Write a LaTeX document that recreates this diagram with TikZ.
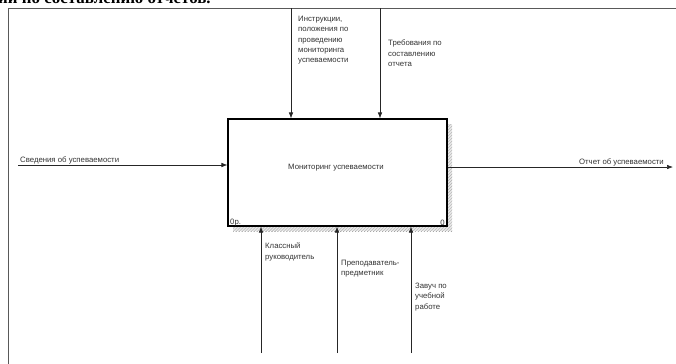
\documentclass[tikz,border=0pt]{standalone}
\usepackage{fontspec}
\setmainfont{Liberation Sans}
\newfontfamily\headfont{Liberation Serif}
\usetikzlibrary{arrows.meta,patterns}
\begin{document}
\begin{tikzpicture}[x=1bp,y=-1bp,
  lbl/.style={font=\fontsize{7.8}{10.4}\selectfont, text=black!80, inner sep=0pt, align=left},
  flow/.style={draw=black!85, line width=0.6bp, -{Latex[length=6bp,width=4.5bp]}},
  framebox/.style={draw=black!65, line width=0.9bp},
  actbox/.style={draw=black, line width=1.1bp, fill=white}]
\useasboundingbox (0,0) rectangle (676,363);
\clip (0,0) rectangle (676,363);
% fragment of the heading line above the diagram sheet
\node[anchor=base west, inner sep=0pt, font=\headfont\bfseries\fontsize{17}{17}\selectfont] (head) at (-2,3) {ии по составлению отчетов.};
% sheet frame
\draw[framebox] (8,366) -- (8,8) -- (680,8);
% shadow of the activity box
\fill[pattern=north east lines, pattern color=black!55] (233,124) rectangle (452,231);
\fill[black!15, opacity=0.6] (233,124) rectangle (452,231);
% activity box
\node[actbox, minimum width=219bp, minimum height=107bp, inner sep=0pt] (A) at (337.5,172.5) {};
\node[lbl] (Aname) at (336,168) {Мониторинг успеваемости};
\node[lbl, anchor=south west] (Anum) at (230,226) {0р.};
\node[lbl, anchor=south east] (Aid) at (445,226) {0};
% endpoints of the boundary arrows
\coordinate (inL) at (18,165);
\coordinate (outR) at (673,167);
\coordinate (c1) at (291,8);
\coordinate (c2) at (380,8);
\coordinate (m1) at (261,353);
\coordinate (m2) at (337,353);
\coordinate (m3) at (411,353);
% input
\draw[flow] (inL) -- (inL -| A.west);
\node[lbl, anchor=base west] (inT) at (20,162) {Сведения об успеваемости};
% output
\draw[flow] (outR -| A.east) -- (outR);
\node[lbl, anchor=base east] (outT) at (664,164) {Отчет об успеваемости};
% controls
\draw[flow] (c1) -- (c1 |- A.north);
\draw[flow] (c2) -- (c2 |- A.north);
\node[lbl, anchor=north west] (c1T) at (298,16) {Инструкции,\\положения по\\проведению\\мониторинга\\успеваемости};
\node[lbl, anchor=north west] (c2T) at (388,40) {Требования по\\составлению\\отчета};
% mechanisms
\draw[flow] (m1) -- (m1 |- A.south);
\draw[flow] (m2) -- (m2 |- A.south);
\draw[flow] (m3) -- (m3 |- A.south);
\node[lbl, anchor=north west] (m1T) at (265,243) {Классный\\руководитель};
\node[lbl, anchor=north west] (m2T) at (341,260) {Преподаватель-\\предметник};
\node[lbl, anchor=north west] (m3T) at (415,283) {Завуч по\\учебной\\работе};
\end{tikzpicture}
\end{document}
